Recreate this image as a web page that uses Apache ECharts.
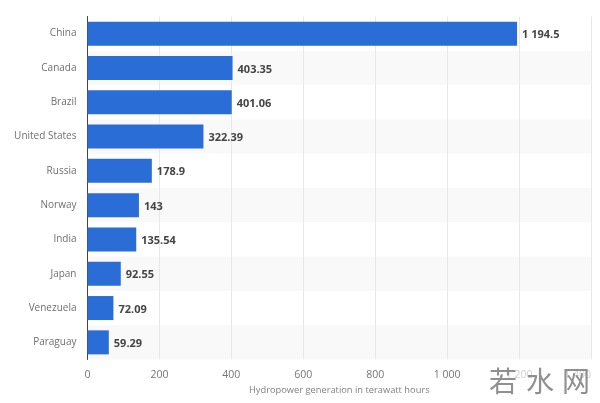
<!DOCTYPE html>
<html><head><meta charset="utf-8">
<style>html,body{margin:0;padding:0;background:#fff}#c{width:600px;height:403px}</style>
<script src="https://cdn.jsdelivr.net/npm/echarts@6/dist/echarts.min.js"></script>
</head><body><div id="c"></div>
<script>
const categories = ['China','Canada','Brazil','United States','Russia','Norway','India','Japan','Venezuela','Paraguay'];
const values = [1194.5,403.35,401.06,322.39,178.9,143,135.54,92.55,72.09,59.29];
const spaced = v => { const s = String(v).split('.'); return s[0].replace(/\B(?=(\d{3})+$)/g,' ') + (s[1] ? '.' + s[1] : ''); };
const font = '"Open Sans", sans-serif';
const wm = 'rgba(125,125,125,0.85)';
const chart = echarts.init(document.getElementById('c'), null, {renderer:'canvas'});
chart.setOption({
  animation:false,
  backgroundColor:'#fff',
  grid:{left:87.5,right:9,top:16.5,bottom:43.5,containLabel:false,outerBoundsMode:'none'},
  xAxis:{type:'value',min:0,max:1400,interval:200,
    axisLine:{show:false},axisTick:{show:false},
    axisLabel:{color:'#777',fontFamily:font,fontSize:10.5,margin:10.5,alignMaxLabel:'right',formatter:v=>spaced(v)},
    splitLine:{show:true,lineStyle:{color:'#e8e8e8',width:1}},
    name:'Hydropower generation in terawatt hours',nameLocation:'middle',nameGap:26,
    nameTextStyle:{color:'#808080',fontFamily:font,fontSize:9.3}},
  yAxis:{type:'category',inverse:true,data:categories,
    axisLine:{show:true,lineStyle:{color:'#444',width:1}},axisTick:{show:false},
    axisLabel:{color:'#6f6f6f',fontFamily:font,fontSize:10,margin:11,padding:[3,0,0,0]},
    splitLine:{show:false},
    splitArea:{show:true,areaStyle:{color:['#ffffff','#f9f9f9']}}},
  series:[{type:'bar',data:values,barWidth:24,z:3,
    itemStyle:{color:'#2b6dd6'},
    label:{show:true,position:'right',distance:5,offset:[0,1.5],color:'#444',fontFamily:font,fontWeight:'bold',fontSize:11,formatter:p=>spaced(p.value)}}],
  graphic:[
    {type:'rect',z:9,shape:{x:488,y:362,width:112,height:41},style:{fill:'rgba(255,255,255,0.65)'}},
    {type:'text',left:489,top:367,z:10,style:{text:'若',font:'28px "Noto Sans CJK SC"',fill:wm}},
    {type:'text',left:526,top:367,z:10,style:{text:'水',font:'28px "Noto Sans CJK SC"',fill:wm}},
    {type:'text',left:562,top:367,z:10,style:{text:'网',font:'28px "Noto Sans CJK SC"',fill:wm}}
  ]
});
</script></body></html>
